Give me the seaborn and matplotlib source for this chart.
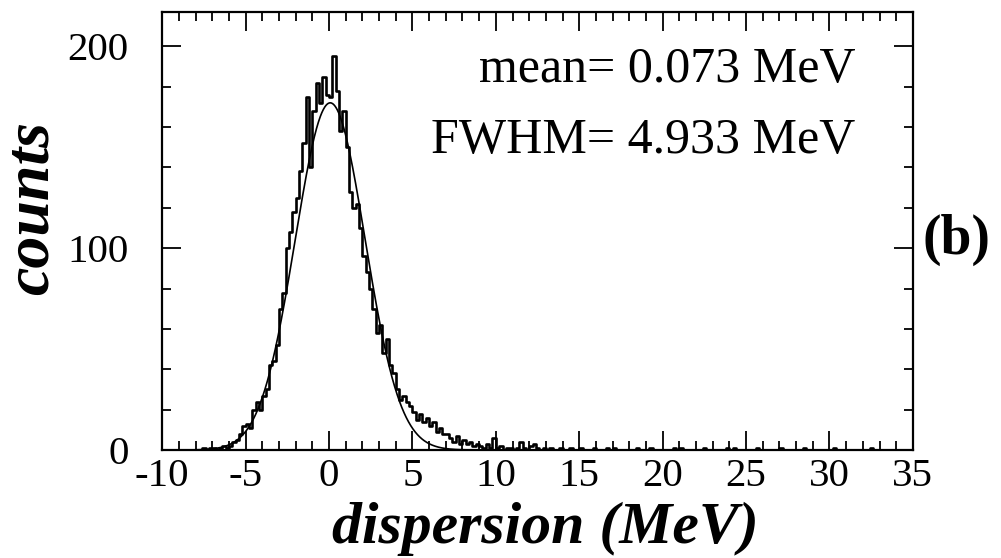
import numpy as np
import pandas as pd
import matplotlib
matplotlib.use("Agg")
import matplotlib.pyplot as plt
import seaborn as sns
from matplotlib.ticker import MultipleLocator

# ---------------- data ----------------
bin_start = -10.0
bin_width = 0.2
counts = [
    # -10 .. -8
    0, 0, 0, 0, 0, 0, 0, 0, 0, 0,
    # -8 .. -7
    0, 0, 1, 0, 1,
    # -7 .. -6
    1, 0, 1, 2, 1,
    # -6 .. -5
    2, 4, 5, 8, 12,
    # -5 .. -4
    13, 11, 20, 24, 20,
    # -4 .. -3
    27, 30, 42, 44, 52,
    # -3 .. -2
    70, 78, 100, 108, 118,
    # -2 .. -1
    125, 138, 152, 175, 140,
    # -1 .. 0
    168, 182, 172, 185, 176,
    # 0 .. 1
    175, 195, 178, 158, 168,
    # 1 .. 2
    150, 128, 120, 122, 110,
    # 2 .. 3
    96, 88, 80, 70, 58,
    # 3 .. 4
    62, 48, 55, 42, 38,
    # 4 .. 5
    30, 25, 27, 24, 22,
    # 5 .. 6
    19, 15, 18, 14, 16,
    # 6 .. 7
    12, 14, 9, 11, 8,
    # 7 .. 8
    8, 6, 4, 7, 3,
    # 8 .. 9
    5, 3, 4, 2, 3,
    # 9 .. 10
    2, 1, 3, 1, 6,
    # 10 .. 11
    1, 2, 0, 1, 1,
    # 11 .. 12
    0, 1, 4, 1, 0,
    # 12 .. 13
    2, 3, 1, 0, 1,
    # 13 .. 35
    0, 1, 0, 0, 1,   0, 0, 1, 0, 0,   1, 0, 0, 0, 1,   0, 0, 0, 1, 0,
    1, 0, 0, 0, 0,   0, 0, 1, 0, 0,   0, 1, 0, 0, 0,   0, 0, 0, 1, 0,
    1, 0, 0, 0, 0,   0, 0, 1, 0, 0,   0, 0, 0, 0, 1,   0, 1, 0, 0, 0,
    0, 0, 0, 1, 0,   0, 0, 0, 0, 0,   1, 0, 0, 0, 0,   0, 0, 1, 0, 0,
    0, 0, 0, 0, 0,   0, 1, 0, 0, 0,   0, 0, 0, 0, 0,   0, 0, 1, 0, 0,
    0, 0, 0, 0, 0,   0, 0, 0, 0, 0,
]

# Gaussian fit parameters
fit_mean = 0.073      # MeV
fit_fwhm = 4.933      # MeV
fit_amplitude = 172.0  # counts

x_ticks = [-10, -5, 0, 5, 10, 15, 20, 25, 30, 35]
y_ticks = [0, 100, 200]

# ---------------- plot ----------------
sns.set_style("ticks")
plt.rcParams["font.family"] = ["Liberation Serif", "DejaVu Serif"]
plt.rcParams["axes.unicode_minus"] = False
for key in ("text.color", "axes.labelcolor", "xtick.color", "ytick.color",
            "axes.edgecolor"):
    plt.rcParams[key] = "black"

fig = plt.figure(figsize=(10.01, 5.58), dpi=100)
ax = fig.add_axes([0.162, 0.1935, 0.750, 0.785])

edges = bin_start + bin_width * np.arange(len(counts) + 1)
centers = edges[:-1] + bin_width / 2
hist_df = pd.DataFrame({"dispersion": centers, "counts": np.asarray(counts, dtype=float)})
sns.histplot(data=hist_df, x="dispersion", weights="counts", bins=list(edges),
             element="step", fill=False, color="black", linewidth=1.9, ax=ax)

sigma = fit_fwhm / (2.0 * np.sqrt(2.0 * np.log(2.0)))
xs = np.linspace(x_ticks[0], x_ticks[-1], 2000)
ys = fit_amplitude * np.exp(-0.5 * ((xs - fit_mean) / sigma) ** 2)
fit_df = pd.DataFrame({"x": xs, "y": ys})
sns.lineplot(data=fit_df, x="x", y="y", color="black", linewidth=1.2, ax=ax)

ax.set_xlim(x_ticks[0], x_ticks[-1])
ax.set_ylim(0, 217)
ax.set_xticks(x_ticks)
ax.set_xticklabels([str(t) for t in x_ticks])
ax.set_yticks(y_ticks)
ax.set_yticklabels([str(t) for t in y_ticks])
ax.xaxis.set_minor_locator(MultipleLocator(1))
ax.yaxis.set_minor_locator(MultipleLocator(20))
ax.tick_params(which="both", direction="in", top=True, right=True,
               width=1.3, colors="black", labelcolor="black")
ax.tick_params(which="major", length=14)
ax.tick_params(which="minor", length=6.5)
ax.tick_params(axis="x", which="major", labelsize=29.5, pad=6)
ax.tick_params(axis="y", which="major", labelsize=29.5, pad=24)
for s in ax.spines.values():
    s.set_linewidth(1.6)
    s.set_color("black")
ax.set_xlabel("")
ax.set_ylabel("")

ax.text(0.924, 0.840, f"mean= {fit_mean:.3f} MeV", transform=ax.transAxes,
        ha="right", va="baseline", fontsize=36, color="black")
ax.text(0.924, 0.678, f"FWHM= {fit_fwhm:.3f} MeV", transform=ax.transAxes,
        ha="right", va="baseline", fontsize=36, color="black")

fig.text(0.922, 0.570, "(b)", fontsize=40, fontweight="bold",
         ha="left", va="center", color="black")
fig.text(0.033, 0.627, "counts", rotation=90, fontsize=46,
         fontweight="bold", style="italic", ha="center", va="center", color="black")
fig.text(0.545, 0.052, "dispersion (MeV)", fontsize=43,
         fontweight="bold", style="italic", ha="center", va="center", color="black")

fig.savefig("out.png", dpi=100)
